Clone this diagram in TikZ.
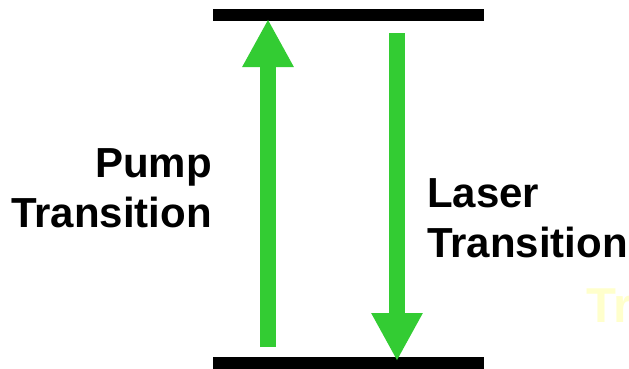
\documentclass[tikz,border=0pt]{standalone}
\usepackage{fontspec}
\setmainfont{Liberation Sans}
\usetikzlibrary{arrows.meta}
\definecolor{arrowgreen}{RGB}{51,204,51}
\definecolor{paleyellow}{RGB}{255,255,204}
\begin{document}
\begin{tikzpicture}[x=1pt,y=-1pt,
  level/.style={fill=black,draw=none,minimum width=271pt,minimum height=12pt,inner sep=0pt},
  blockarrow/.style={draw=arrowgreen,line width=16pt,
    -{Triangle[width=48pt,length=48pt,fill=arrowgreen]}},
  label/.style={inner sep=0pt,font=\fontsize{42}{50}\selectfont\bfseries}]
\useasboundingbox (0,0) rectangle (629,368);
\clip (0,0) rectangle (629,368);
% energy levels
\node[level] (upper) at (348.5,15) {};
\node[level] (lower) at (348.5,363) {};
% pump and laser transitions
\coordinate (pumpTail) at (268,347);
\coordinate (pumpTip) at (268,19);
\coordinate (laserTail) at (397,33);
\coordinate (laserTip) at (397,361);
\draw[blockarrow] (pumpTail) -- (pumpTip);
\draw[blockarrow] (laserTail) -- (laserTip);
% labels (base anchor sits on the last line)
\node[label,align=right,anchor=base east] (pump) at (212,227) {Pump\\Transition};
\node[label,align=left,anchor=base west] (laser) at (427,257) {Laser\\Transition};
\node[inner sep=0pt,anchor=base west,text=paleyellow,font=\fontsize{49}{59}\selectfont\bfseries] (faint) at (586,322) {Tr};
\end{tikzpicture}
\end{document}
